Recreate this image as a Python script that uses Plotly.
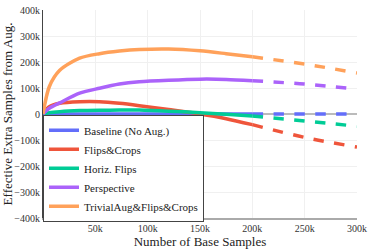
import plotly.graph_objects as go

# Data (x in base samples, y in effective extra samples)
x_solid = [0, 6000, 16000, 35000, 54000, 73000, 92000, 120000, 150000, 175000, 200000]
x_dash = [200000, 250000, 300000]

baseline_solid = [0, 0, 0, 0, 0, 0, 0, 0, 0, 0, 0]
baseline_dash = [0, 0, 0]

flips_crops_solid = [0, 28000, 41000, 47000, 47000, 41000, 32000, 17000, 0, -18000, -41000]
flips_crops_dash = [-41000, -90000, -127000]

horiz_flips_solid = [0, 5000, 9000, 13000, 14500, 15000, 15000, 11000, 5000, -1000, -8000]
horiz_flips_dash = [-8000, -27000, -47000]

perspective_solid = [0, 22000, 43000, 80000, 99000, 115000, 124000, 130000, 134000, 133000, 128000]
perspective_dash = [128000, 115000, 96000]

trivial_solid = [0, 105000, 168000, 215000, 232000, 242000, 248000, 250000, 243000, 232000, 220000]
trivial_dash = [220000, 192000, 158000]

names = ["Baseline (No Aug.)", "Flips&Crops", "Horiz. Flips", "Perspective", "TrivialAug&Flips&Crops"]
colors = ["#636efa", "#EF553B", "#00cc96", "#ab63fa", "#FFA15A"]
solids = [baseline_solid, flips_crops_solid, horiz_flips_solid, perspective_solid, trivial_solid]
dashes = [baseline_dash, flips_crops_dash, horiz_flips_dash, perspective_dash, trivial_dash]

x_tickvals = [50000, 100000, 150000, 200000, 250000, 300000]
x_ticktext = ["50k", "100k", "150k", "200k", "250k", "300k"]
y_tickvals = [-400000, -300000, -200000, -100000, 0, 100000, 200000, 300000, 400000]
y_ticktext = ["\u2212400k", "\u2212300k", "\u2212200k", "\u2212100k", "0", "100k", "200k", "300k", "400k"]

SERIF = "Liberation Serif"

fig = go.Figure()
for name, color, ys in zip(names, colors, solids):
    fig.add_trace(go.Scatter(x=x_solid, y=ys, mode="lines", name=name,
                             line=dict(color=color, width=3.5, shape="spline", smoothing=0.8),
                             legendgroup=name))
for name, color, yd in zip(names, colors, dashes):
    fig.add_trace(go.Scatter(x=x_dash, y=yd, mode="lines", name=name,
                             line=dict(color=color, width=3.5, dash="dash", shape="spline"),
                             legendgroup=name, showlegend=False))

fig.update_layout(
    width=373, height=249,
    template="plotly_white",
    margin=dict(l=43, r=16, t=10, b=31),
    font=dict(family=SERIF, size=10, color="#333"),
    showlegend=True,
    legend=dict(x=0, y=-0.018, xanchor="left", yanchor="bottom",
                bgcolor="white", bordercolor="#444", borderwidth=1,
                font=dict(family=SERIF, size=11, color="#222"),
                tracegroupgap=0, itemwidth=30),
    xaxis=dict(range=[0, 300000], tickvals=x_tickvals, ticktext=x_ticktext,
               title=dict(text="Number of Base Samples", font=dict(family=SERIF, size=13, color="#222"), standoff=4),
               showline=True, linecolor="#aaa", linewidth=2, gridcolor="#f0f0f0",
               zeroline=False, tickfont=dict(family=SERIF, size=10), automargin=False),
    yaxis=dict(range=[-400000, 400000], tickvals=y_tickvals, ticktext=y_ticktext,
               title=dict(text="Effective Extra Samples from Aug.", font=dict(family=SERIF, size=13, color="#222"), standoff=2),
               showline=True, linecolor="#444", linewidth=1, gridcolor="#f0f0f0",
               zeroline=True, zerolinecolor="#bbb", zerolinewidth=2,
               tickfont=dict(family=SERIF, size=10), automargin=False),
)

fig.write_html("out.html", config={"displayModeBar": False},
               post_script="document.body.style.margin='0';document.body.style.overflow='hidden';")
